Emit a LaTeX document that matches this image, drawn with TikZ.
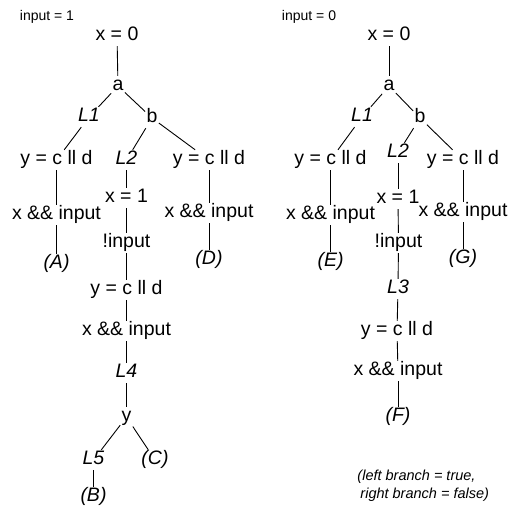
\documentclass[tikz,border=0pt]{standalone}
\usepackage{fontspec}
\setmainfont{Liberation Sans}

\begin{document}
\begin{tikzpicture}[x=1pt,y=-1pt,line width=0.9pt]
    \tikzset{every node/.style={inner sep=1pt,text height=13.5pt,text depth=4pt,font=\fontsize{19.5}{23}\selectfont},
        lbl/.style={font=\fontsize{19.5}{23}\selectfont\itshape},
        inp/.style={text height=,text depth=,font=\fontsize{14}{16}\selectfont},
        note/.style={text height=,text depth=,inner sep=0pt,anchor=north west,align=left,font=\fontsize{14.5}{18}\selectfont\itshape}}
    \useasboundingbox (0,0) rectangle (511,510);
    % input = 1
    \node[inp] (inA) at (47,17) {input = 1};
    \node (x0A) at (117,36) {x = 0};
    \node (aA) at (118,86) {a};
    \node[lbl] (L1A) at (89,117) {L1};
    \node (bA) at (152,118) {b};
    \node (ylA) at (56.5,160) {y = c ll d};
    \node[lbl] (L2A) at (126.5,160) {L2};
    \node (yrA) at (209,160) {y = c ll d};
    \node (xlA) at (56.5,215) {x \&\& input};
    \node[lbl] (AA) at (56.5,264) {(A)};
    \node (x1A) at (126.5,198) {x = 1};
    \node (nA) at (126.5,243) {!input};
    \node (y2A) at (126.5,290) {y = c ll d};
    \node (xi2A) at (126.5,331) {x \&\& input};
    \node[lbl] (L4A) at (126.5,373) {L4};
    \node (yA) at (126.5,417) {y};
    \node[lbl] (L5A) at (93.5,460) {L5};
    \node[lbl] (CA) at (155,460) {(C)};
    \node[lbl] (BA) at (93.5,497) {(B)};
    \node (xrA) at (209,213) {x \&\& input};
    \node[lbl] (DA) at (209,260) {(D)};
    \foreach \u/\v in {x0A/aA,aA/L1A,aA/bA,L1A/ylA,bA/L2A,bA/yrA,ylA/xlA,xlA/AA,
        L2A/x1A,x1A/nA,nA/y2A,y2A/xi2A,xi2A/L4A,L4A/yA,yA/L5A,yA/CA,L5A/BA,yrA/xrA,xrA/DA}
        \draw (\u) -- (\v);
    % input = 0
    \node[inp] (inB) at (309,17) {input = 0};
    \node (x0B) at (389,36) {x = 0};
    \node (aB) at (389,86) {a};
    \node[lbl] (L1B) at (362,117) {L1};
    \node (bB) at (420,118) {b};
    \node (ylB) at (330.5,160) {y = c ll d};
    \node[lbl] (L2B) at (398,153) {L2};
    \node (yrB) at (463,160) {y = c ll d};
    \node (xlB) at (330.5,215) {x \&\& input};
    \node[lbl] (EB) at (330.5,262) {(E)};
    \node (x1B) at (398,199) {x = 1};
    \node (nB) at (398.5,243) {!input};
    \node[lbl] (L3B) at (398,289) {L3};
    \node (y2B) at (397,331) {y = c ll d};
    \node (xi2B) at (398,371) {x \&\& input};
    \node[lbl] (FB) at (398,417) {(F)};
    \node (xrB) at (463,212) {x \&\& input};
    \node[lbl] (GB) at (463,259) {(G)};
    \foreach \u/\v in {x0B/aB,aB/L1B,aB/bB,L1B/ylB,bB/L2B,bB/yrB,ylB/xlB,xlB/EB,
        L2B/x1B,x1B/nB,nB/L3B,L3B/y2B,y2B/xi2B,xi2B/FB,yrB/xrB,xrB/GB}
        \draw (\u) -- (\v);
    \node[note] (key) at (357,470) {(left branch = true,\\\hspace*{3pt}right branch = false)};
\end{tikzpicture}
\end{document}
